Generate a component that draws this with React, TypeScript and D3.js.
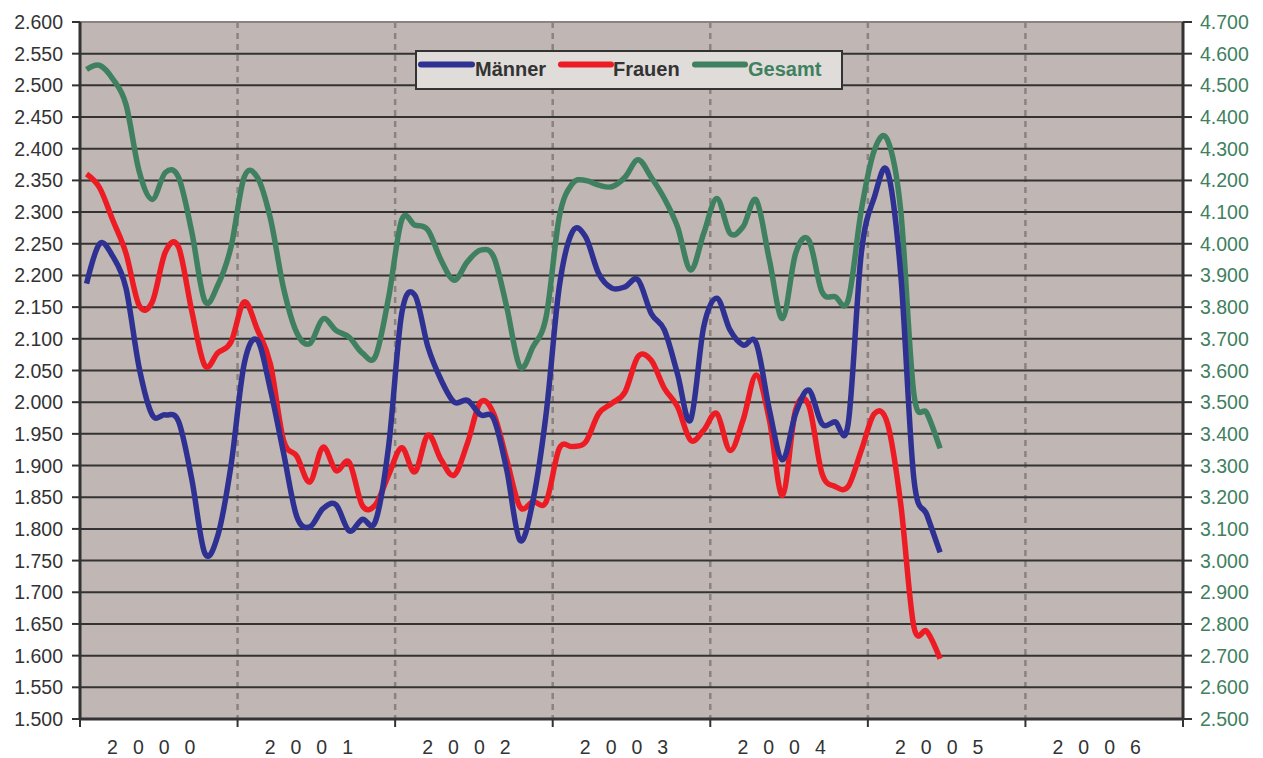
import React from "react";
import * as d3 from "d3";

const years = ["2000", "2001", "2002", "2003", "2004", "2005", "2006"];
const leftTicks = d3.range(0, 23).map((i) => 1.5 + i * 0.05);
const rightTicks = d3.range(0, 23).map((i) => 2.5 + i * 0.1);

const maenner = [
  2.187, 2.25, 2.23, 2.18, 2.055, 1.98, 1.98, 1.97, 1.88, 1.762, 1.79, 1.9,
  2.06, 2.098, 2.02, 1.92, 1.82, 1.803, 1.832, 1.838, 1.797, 1.815, 1.812, 1.93,
  2.14, 2.169, 2.087, 2.035, 2.0, 2.003, 1.98, 1.974, 1.893, 1.782, 1.845, 1.982,
  2.182, 2.269, 2.261, 2.203, 2.18, 2.182, 2.193, 2.14, 2.114, 2.045, 1.972, 2.119,
  2.164, 2.114, 2.09, 2.093, 1.988, 1.909, 1.982, 2.019, 1.966, 1.969, 1.966, 2.235,
  2.324, 2.364, 2.203, 1.88, 1.822, 1.763,
];
const frauen = [
  2.36, 2.338, 2.287, 2.235, 2.153, 2.158, 2.237, 2.245, 2.145, 2.058, 2.078, 2.095,
  2.158, 2.115, 2.06, 1.94, 1.915, 1.874, 1.929, 1.892, 1.905, 1.837, 1.838, 1.885,
  1.928, 1.89, 1.948, 1.909, 1.885, 1.935, 2.0, 1.982, 1.909, 1.835, 1.843, 1.843,
  1.927, 1.93, 1.937, 1.982, 1.998, 2.016, 2.072, 2.066, 2.022, 1.993, 1.94, 1.956,
  1.982, 1.924, 1.972, 2.043, 1.972, 1.853, 1.988, 1.995, 1.888, 1.867, 1.867, 1.924,
  1.982, 1.966, 1.84, 1.646, 1.638, 1.595,
];
const gesamt = [
  4.55, 4.563, 4.52, 4.44, 4.23, 4.14, 4.225, 4.21, 4.04, 3.82, 3.87, 3.99,
  4.21, 4.21, 4.08, 3.86, 3.72, 3.685, 3.763, 3.726, 3.705, 3.655, 3.645, 3.83,
  4.075, 4.059, 4.043, 3.948, 3.885, 3.943, 3.98, 3.959, 3.8, 3.612, 3.675, 3.77,
  4.085, 4.19, 4.2, 4.185, 4.18, 4.21, 4.265, 4.21, 4.143, 4.054, 3.917, 4.033,
  4.143, 4.033, 4.054, 4.138, 3.949, 3.764, 3.97, 4.012, 3.849, 3.833, 3.822, 4.106,
  4.296, 4.327, 4.106, 3.528, 3.465, 3.354,
];

const BLUE = "#2E3192";
const RED = "#ED1C24";
const GREEN = "#3F8060";
const TEXT = "#333333";
const FONT = "'Liberation Sans', Arial, sans-serif";

export default function App() {
  const W = 1263, H = 758;
  const L = 80, R = 1183, T = 22, B = 719;
  const x = d3.scaleLinear().domain([0, years.length * 12]).range([L, R]);
  const yL = d3.scaleLinear().domain([1.5, 2.6]).range([B, T]);
  const yR = d3.scaleLinear().domain([2.5, 4.7]).range([B, T]);
  const curve = d3.curveCardinal.tension(0);
  const lineL = d3.line<number>().x((_, i) => x(i + 0.5)).y((v) => yL(v)).curve(curve);
  const lineR = d3.line<number>().x((_, i) => x(i + 0.5)).y((v) => yR(v)).curve(curve);
  const yearBounds = d3.range(0, years.length + 1).map((i) => i * 12);

  const legend = [
    { label: "Männer", color: BLUE, text: TEXT, x0: 421, x1: 472, tx: 475 },
    { label: "Frauen", color: RED, text: TEXT, x0: 561, x1: 611, tx: 613 },
    { label: "Gesamt", color: GREEN, text: GREEN, x0: 695, x1: 745, tx: 748 },
  ];

  return (
    <svg width={W} height={H} style={{ position: "absolute", left: 0, top: 0 }} fontFamily={FONT}>
      <rect x={0} y={0} width={W} height={H} fill="#ffffff" />
      <rect x={L} y={T} width={R - L} height={B - T} fill="#C0B6B3" />
      {yearBounds.slice(1, -1).map((m) => (
        <line key={"v" + m} x1={x(m)} x2={x(m)} y1={T} y2={B} stroke="#8C8280" strokeWidth={2.5} strokeDasharray="6,5" />
      ))}
      {leftTicks.slice(1, -1).map((t) => (
        <line key={"h" + t} x1={L} x2={R} y1={yL(t)} y2={yL(t)} stroke="#333333" strokeWidth={2} />
      ))}
      <line x1={L} x2={R} y1={T} y2={T} stroke="#8C8280" strokeWidth={2} />
      <line x1={L} x2={L} y1={T} y2={B + 1} stroke="#333333" strokeWidth={3} />
      <line x1={R} x2={R} y1={T} y2={B + 1} stroke="#333333" strokeWidth={3} />
      <line x1={L - 1} x2={R + 1} y1={B} y2={B} stroke="#333333" strokeWidth={3} />
      {leftTicks.map((t) => (
        <g key={"lt" + t}>
          <line x1={L - 8} x2={L} y1={yL(t)} y2={yL(t)} stroke="#333333" strokeWidth={2} />
          <text x={63} y={yL(t) + 7} textAnchor="end" fontSize={19.5} fill={TEXT}>
            {d3.format(".3f")(t)}
          </text>
        </g>
      ))}
      {rightTicks.map((t) => (
        <g key={"rt" + t}>
          <line x1={R} x2={R + 9} y1={yR(t)} y2={yR(t)} stroke="#333333" strokeWidth={2} />
          <text x={1200} y={yR(t) + 7} textAnchor="start" fontSize={19.5} fill={GREEN}>
            {d3.format(".3f")(t)}
          </text>
        </g>
      ))}
      {yearBounds.map((m) => (
        <line key={"bt" + m} x1={x(m)} x2={x(m)} y1={B} y2={B + 8} stroke="#333333" strokeWidth={2} />
      ))}
      {years.map((yr, i) => (
        <text key={yr} x={x(i * 12 + 6)} y={754} textAnchor="middle" fontSize={19.5} fill={TEXT} letterSpacing={15}>
          {yr}
        </text>
      ))}
      <path d={lineR(gesamt) || ""} fill="none" stroke={GREEN} strokeWidth={5.5} strokeLinejoin="round" />
      <path d={lineL(frauen) || ""} fill="none" stroke={RED} strokeWidth={5.5} strokeLinejoin="round" />
      <path d={lineL(maenner) || ""} fill="none" stroke={BLUE} strokeWidth={5.5} strokeLinejoin="round" />
      <rect x={416} y={51} width={426} height={38} fill="#E0DCD9" stroke="#333333" strokeWidth={2} />
      {legend.map((l) => (
        <g key={l.label}>
          <line x1={l.x0} x2={l.x1} y1={64.5} y2={64.5} stroke={l.color} strokeWidth={6} strokeLinecap="round" />
          <text x={l.tx} y={75.5} fontSize={20} fontWeight="bold" fill={l.text}>
            {l.label}
          </text>
        </g>
      ))}
    </svg>
  );
}
